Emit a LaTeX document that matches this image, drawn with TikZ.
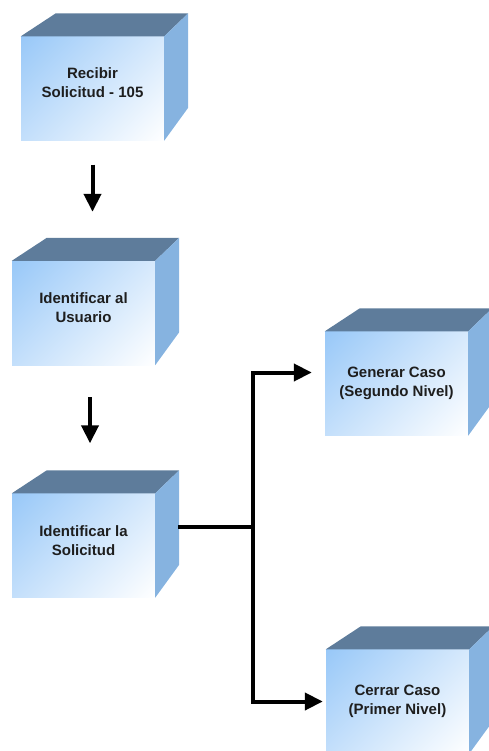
\documentclass[tikz,border=0pt]{standalone}
\usepackage{fontspec}
\setmainfont{Liberation Sans}
\usetikzlibrary{arrows.meta,shadings}
\definecolor{cajaazul}{HTML}{98C8F8}
\definecolor{cajaclaro}{HTML}{D6E9FC}
\definecolor{cajatapa}{HTML}{5E7C9B}
\definecolor{cajalado}{HTML}{86B3E0}
\definecolor{texto}{HTML}{1E1E1E}
\begin{document}
\begin{tikzpicture}[x=1pt, y=-1pt,
  caja/.style={minimum width=143pt, minimum height=104pt, inner sep=0pt, shade,
    upper left=cajaazul, upper right=cajaclaro, lower left=cajaclaro!70!cajaazul,
    lower right=white, text=texto, align=center,
    font=\fontsize{15}{19}\selectfont\bfseries},
  linea/.style={line width=4pt, black},
  flecha/.style={linea, -{Triangle[length=18pt, width=17pt]}}]
  \useasboundingbox (0,0) rectangle (488,751);

  \node [caja] (recibir) at (92.5,88.5) {Recibir\\Solicitud - 105\\[-8pt]\mbox{}};
  \node [caja] (usuario) at (83.5,313) {Identificar al\\Usuario\\[-9pt]\mbox{}};
  \node [caja] (solicitud) at (83.5,545.5) {Identificar la\\Solicitud\\[-10pt]\mbox{}};
  \node [caja] (generar) at (396.5,383.5) {Generar Caso\\(Segundo Nivel)};
  \node [caja] (cerrar) at (397.5,701.5) {Cerrar Caso\\(Primer Nivel)};

  \foreach \n in {recibir, usuario, solicitud, generar, cerrar} {
    \fill [cajatapa] (\n.north west) -- ++(35,-23) -- ([shift={(24,-23)}]\n.north east)
      -- (\n.north east) -- cycle;
    \fill [cajalado] (\n.north east) -- ++(24,-23) -- ([shift={(24,-33)}]\n.south east)
      -- (\n.south east) -- cycle;
  }

  \draw [flecha, shorten <=24pt, shorten >=49pt] (recibir.south) -- (recibir.south |- usuario.north);
  \draw [flecha, shorten <=32pt, shorten >=50pt] ([xshift=6.5pt]usuario.south)
    -- ([xshift=6.5pt]usuario.south |- solicitud.north);

  \coordinate (bif) at (253,527);
  \draw [linea] ([shift={(23,-18.5)}]solicitud.east) -- (bif);
  \draw [flecha, shorten >=13pt] (bif) |- ([yshift=11pt]generar.west);
  \draw [flecha, shorten >=3pt] (bif) |- (cerrar.west);
\end{tikzpicture}
\end{document}
